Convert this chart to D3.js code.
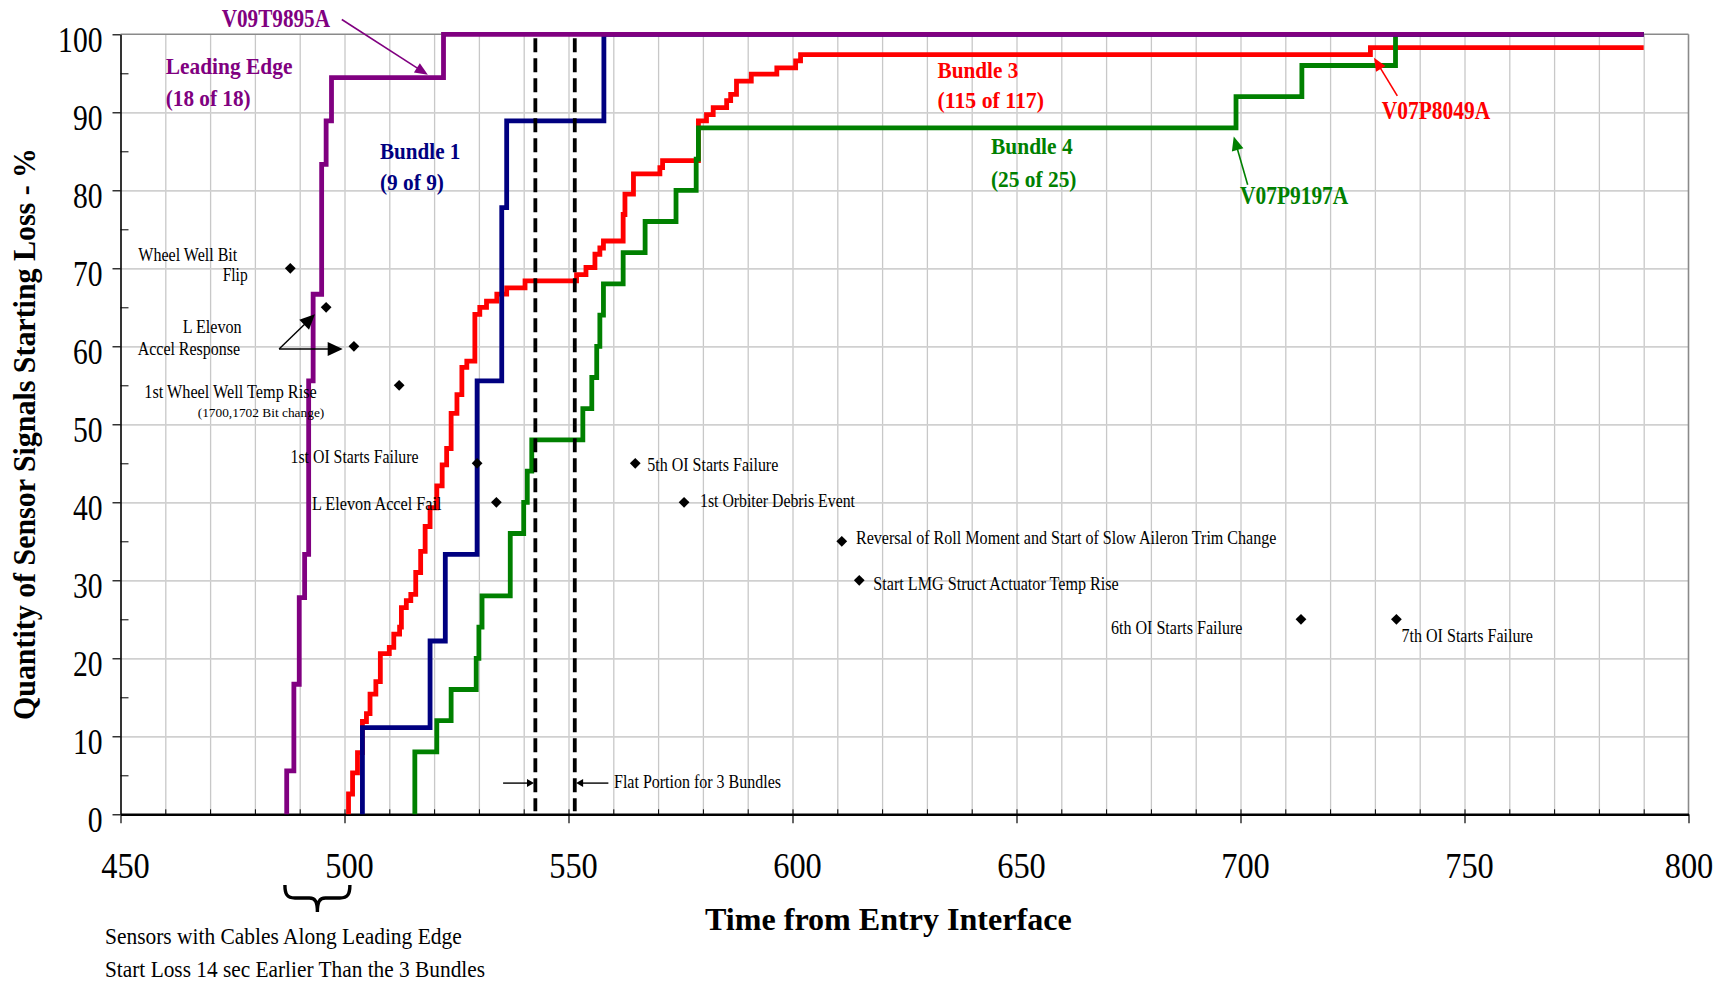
<!DOCTYPE html>
<html><head><meta charset="utf-8">
<script src="https://cdn.jsdelivr.net/npm/d3@7"></script>
<style>
html,body{margin:0;padding:0;background:#fff;}
svg{display:block;}
text{font-family:"Liberation Serif","Times New Roman",serif;}
</style></head><body>
<svg id="chart" width="1718" height="981"></svg>
<script>
// ---------------- DATA ----------------
const xTickValues = [450, 500, 550, 600, 650, 700, 750, 800];
const yTickValues = [0, 10, 20, 30, 40, 50, 60, 70, 80, 90, 100];

// step series: [time (s), % of sensor signals that have started loss]
const leadingEdge = [[487.1,0],[487.1,5.56],[488.7,16.67],[489.9,27.78],[491.1,33.33],[492.0,55.56],
  [493.0,66.67],[494.9,83.33],[495.9,88.89],[497.1,94.44],[522.1,100],[790,100]];
const bundle1 = [[504.0,0],[504.0,11.11],[519.1,22.22],[522.5,33.33],[529.6,55.56],[535.1,77.78],
  [536.2,88.89],[557.9,100],[790,100]];
const bundle3 = [[500.9,0],[500.9,2.6],[501.8,5.3],[502.9,7.9],[504.0,11.9],[504.9,12.9],[505.7,15.4],
  [507.0,17.0],[508.0,20.6],[510.0,21.4],[511.0,23.1],[512.3,24.0],[512.7,26.5],[513.8,27.4],[514.8,28.2],
  [515.9,31.0],[517.0,33.7],[518.0,36.9],[519.1,39.3],[520.6,42.1],[521.8,44.8],[522.8,46.9],[523.8,51.4],
  [525.1,53.8],[526.2,57.3],[527.3,58.1],[529.1,64.1],[530.2,65.0],[531.7,65.8],[534.0,66.7],[536.2,67.5],
  [540.3,68.4],[551.8,69.2],[553.9,70.1],[555.9,71.8],[557.0,72.6],[557.8,73.5],[562.2,76.9],[562.6,79.5],
  [564.5,82.1],[570.4,82.9],[571.0,83.8],[579.0,88.9],[580.8,89.7],[582.3,90.6],[585.3,91.5],[586.2,92.3],
  [587.5,94.0],[590.8,94.9],[596.5,95.7],[600.7,96.6],[601.8,97.4],[729.0,98.3],[790,98.3]];
const bundle4 = [[515.7,0],[515.7,8],[520.6,12],[523.8,16],[529.4,20],[530.0,24],[530.7,28],[537.0,36],
  [540.0,40],[540.8,44],[541.8,48],[553.2,52],[555.2,56],[556.3,60],[557.0,64],[557.8,68],[562.2,72],
  [567.1,76],[574.0,80],[578.5,84],[579.0,88],[699.0,92],[713.7,96],[734.6,100],[790,100]];

// events (time, %) marked by diamonds
const eventTimes  = [487.9, 495.9, 502.1, 512.2, 529.6, 533.9, 564.9, 575.8, 611.0, 614.9, 713.5, 734.8];
const eventLevels = [70, 65, 60, 55, 45, 40, 45, 40, 35, 30, 25, 25];

// flat portion boundaries (time)
const flatBounds = [542.6, 551.4];

// ---------------- LAYOUT ----------------
const svg = d3.select("#chart");
svg.append("rect").attr("width",1718).attr("height",981).attr("fill","#fff");
const x = d3.scaleLinear().domain([450, 800]).range([120.5, 1688.5]);
const y = d3.scaleLinear().domain([0, 100]).range([814.3, 34.3]);
const plotW = x(800) - x(450), plotH = y(0) - y(100);

// gridlines
const gV = svg.append("g").attr("transform", `translate(0,${y(0)})`)
  .call(d3.axisBottom(x).tickValues(d3.range(460, 800, 10)).tickSize(-plotH).tickFormat("").tickSizeOuter(0));
gV.select(".domain").remove();
gV.selectAll("line").attr("stroke", "#c8c8c8").attr("stroke-width", 1.3);
const gH = svg.append("g").attr("transform", `translate(${x(450)},0)`)
  .call(d3.axisLeft(y).tickValues(d3.range(10, 100, 10)).tickSize(-plotW).tickFormat("").tickSizeOuter(0));
gH.select(".domain").remove();
gH.selectAll("line").attr("stroke", "#d0d0d0").attr("stroke-width", 1.8);

// border top/right
svg.append("line").attr("x1", x(450)).attr("x2", x(800)).attr("y1", y(100)).attr("y2", y(100))
  .attr("stroke", "#8a8a8a").attr("stroke-width", 1.6);
svg.append("line").attr("x1", x(800)).attr("x2", x(800)).attr("y1", y(100)).attr("y2", y(0))
  .attr("stroke", "#8a8a8a").attr("stroke-width", 1.6);

// minor ticks (inward)
const mX = svg.append("g").attr("transform", `translate(0,${y(0)})`)
  .call(d3.axisBottom(x).tickValues(d3.range(460, 800, 10)).tickSize(-5).tickFormat("").tickSizeOuter(0));
mX.select(".domain").remove();
mX.selectAll("line").attr("stroke", "#000").attr("stroke-width", 1);
const mY = svg.append("g").attr("transform", `translate(${x(450)},0)`)
  .call(d3.axisLeft(y).tickValues(d3.range(5, 100, 10)).tickSize(-8).tickFormat("").tickSizeOuter(0));
mY.select(".domain").remove();
mY.selectAll("line").attr("stroke", "#000").attr("stroke-width", 1);

// major axes
const ax = svg.append("g").attr("transform", `translate(0,${y(0)})`)
  .call(d3.axisBottom(x).tickValues(xTickValues).tickSize(9).tickSizeOuter(0).tickFormat(d3.format("d")));
ax.select(".domain").attr("stroke", "#000").attr("stroke-width", 2.6);
ax.selectAll("line").attr("stroke", "#000").attr("stroke-width", 1.2);
ax.selectAll("text").attr("font-family", "Liberation Serif").attr("font-size", 35).attr("fill", "#000")
  .attr("y", 64).attr("dy", 0).attr("x", d => d === 800 ? 0 : 4.5).attr("text-anchor", "middle")
  .attr("textLength", d => String(d).length * 16.2).attr("lengthAdjust", "spacingAndGlyphs");

const ay = svg.append("g").attr("transform", `translate(${x(450)},0)`)
  .call(d3.axisLeft(y).tickValues(yTickValues).tickSize(8).tickSizeOuter(0).tickFormat(d3.format("d")));
ay.select(".domain").attr("stroke", "#000").attr("stroke-width", 1.6);
ay.selectAll("line").attr("stroke", "#000").attr("stroke-width", 1.2);
ay.selectAll("text").attr("font-family", "Liberation Serif").attr("font-size", 35).attr("fill", "#000")
  .attr("x", -18).attr("dy", 0).attr("y", 17.4).attr("text-anchor", "end")
  .attr("textLength", d => String(d).length * 14.8).attr("lengthAdjust", "spacingAndGlyphs");

// ---------------- SERIES ----------------
const line = d3.line().x(d => x(d[0])).y(d => y(d[1])).curve(d3.curveStepAfter);
const series = [
  {data: bundle3, color: "#ff0000"},
  {data: bundle4, color: "#008000"},
  {data: bundle1, color: "#000080"},
  {data: leadingEdge, color: "#800080"}
];
svg.append("g").selectAll("path").data(series).join("path")
  .attr("d", d => line(d.data)).attr("fill", "none").attr("stroke", d => d.color)
  .attr("stroke-width", 4.8).attr("stroke-linejoin", "miter").attr("stroke-linecap", "butt");

// flat-portion dashed lines
svg.append("g").selectAll("line").data(flatBounds).join("line")
  .attr("x1", d => x(d)).attr("x2", d => x(d)).attr("y1", y(99.5)).attr("y2", y(0.4))
  .attr("stroke", "#000").attr("stroke-width", 3.8).attr("stroke-dasharray", "14,6");

// event diamonds
svg.append("g").selectAll("path").data(eventTimes).join("path")
  .attr("d", d3.symbol().type(d3.symbolSquare).size(58))
  .attr("transform", (d, i) => `translate(${x(d)},${y(eventLevels[i])}) rotate(45)`)
  .attr("fill", "#000");

// ---------------- ANNOTATIONS ----------------
function txt(t, v, str, o) {
  const el = svg.append("text").attr("x", x(t)).attr("y", y(v)).text(str)
    .attr("font-size", o.size || 18).attr("font-weight", o.bold ? "bold" : "normal")
    .attr("fill", o.color || "#000");
  if (o.w) el.attr("textLength", o.w).attr("lengthAdjust", "spacingAndGlyphs");
  return el;
}
const PURPLE = "#800080", NAVY = "#000080", RED = "#ff0000", GREEN = "#008000";
txt(472.59, 100.97, "V09T9895A", {size: 25, bold: true, color: PURPLE, w: 108.3});
txt(460.09, 94.91, "Leading Edge", {size: 24, bold: true, color: PURPLE, w: 126.7});
txt(460.09, 90.81, "(18 of 18)", {size: 24, bold: true, color: PURPLE, w: 85});
txt(507.92, 84.01, "Bundle 1", {size: 24, bold: true, color: NAVY, w: 80.4});
txt(507.92, 80.04, "(9 of 9)", {size: 24, bold: true, color: NAVY, w: 64});
txt(632.37, 94.40, "Bundle 3", {size: 24, bold: true, color: RED, w: 80.8});
txt(632.37, 90.55, "(115 of 117)", {size: 24, bold: true, color: RED, w: 106.5});
txt(644.31, 84.71, "Bundle 4", {size: 24, bold: true, color: GREEN, w: 81.6});
txt(644.31, 80.42, "(25 of 25)", {size: 24, bold: true, color: GREEN, w: 85.5});
txt(731.54, 89.14, "V07P8049A", {size: 25, bold: true, color: RED, w: 108.4});
txt(699.89, 78.24, "V07P9197A", {size: 25, bold: true, color: GREEN, w: 108.3});

txt(453.97, 70.97, "Wheel Well Bit", {w: 99});
txt(472.81, 68.41, "Flip", {w: 25});
txt(463.88, 61.67, "L Elevon", {w: 59});
txt(453.84, 58.88, "Accel Response", {w: 102.3});
txt(455.31, 53.33, "1st Wheel Well Temp Rise", {w: 172.4});
txt(467.23, 50.97, "(1700,1702 Bit change)", {size: 13, w: 126.6});
txt(487.95, 45.04, "1st OI Starts Failure", {w: 128});
txt(492.75, 39.01, "L Elevon Accel Fail", {w: 129.5});
txt(567.59, 44.05, "5th OI Starts Failure", {w: 131});
txt(579.35, 39.36, "1st Orbiter Debris Event", {w: 155});
txt(614.17, 34.65, "Reversal of Roll Moment and Start of Slow Aileron Trim Change", {w: 420.5});
txt(618.04, 28.76, "Start LMG Struct Actuator Temp Rise", {w: 245.4});
txt(671.09, 23.12, "6th OI Starts Failure", {w: 131.5});
txt(735.94, 22.09, "7th OI Starts Failure", {w: 131.5});
txt(560.16, 3.33, "Flat Portion for 3 Bundles", {w: 167});

// arrows
function arrow(t1, v1, t2, v2, color, lw, hl, hw) {
  const x1 = x(t1), y1 = y(v1), x2 = x(t2), y2 = y(v2);
  const dx = x2 - x1, dy = y2 - y1, L = Math.hypot(dx, dy), ux = dx / L, uy = dy / L;
  const bx = x2 - ux * hl, by = y2 - uy * hl;
  svg.append("line").attr("x1", x1).attr("y1", y1).attr("x2", bx + ux).attr("y2", by + uy)
    .attr("stroke", color).attr("stroke-width", lw);
  svg.append("path").attr("d", `M${x2},${y2}L${bx - uy * hw},${by + ux * hw}L${bx + uy * hw},${by - ux * hw}Z`)
    .attr("fill", color);
}
arrow(499.4, 101.9, 518.6, 94.8, PURPLE, 1.6, 13, 5.5);
arrow(735.0, 92.1, 729.8, 97.0, RED, 1.6, 13, 5.5);
arrow(701.6, 80.7, 698.5, 86.9, GREEN, 1.6, 14, 6);
arrow(485.4, 59.65, 493.4, 64.1, "#000", 1.4, 15, 7);
arrow(485.4, 59.65, 499.6, 59.65, "#000", 1.4, 15, 7);
arrow(535.4, 4, 542.3, 4, "#000", 1.4, 7, 4);
arrow(558.9, 4, 551.7, 4, "#000", 1.4, 7, 4);

// brace under axis
const bx0 = x(486.7), bx1 = x(501.2), bm = (bx0 + bx1) / 2;
svg.append("path").attr("fill", "none").attr("stroke", "#000").attr("stroke-width", 3.4)
  .attr("d", `M${bx0},885 C${bx0},894 ${bx0 + 2},898 ${bx0 + 10},898 L${bm - 8},898 C${bm - 2},898 ${bm},902 ${bm},912 C${bm},902 ${bm + 2},898 ${bm + 8},898 L${bx1 - 10},898 C${bx1 - 2},898 ${bx1},894 ${bx1},885`);

// bottom texts
svg.append("text").attr("x", 105).attr("y", 944).attr("font-size", 23.7)
  .attr("textLength", 356.7).attr("lengthAdjust", "spacingAndGlyphs")
  .text("Sensors with Cables Along Leading Edge");
svg.append("text").attr("x", 105).attr("y", 976.7).attr("font-size", 23.7)
  .attr("textLength", 380).attr("lengthAdjust", "spacingAndGlyphs")
  .text("Start Loss 14 sec Earlier Than the 3 Bundles");

// axis titles
svg.append("text").attr("x", 705).attr("y", 930).attr("font-size", 32.5).attr("font-weight", "bold")
  .attr("textLength", 366.7).attr("lengthAdjust", "spacingAndGlyphs")
  .text("Time from Entry Interface");
svg.append("text").attr("transform", "translate(35,434) rotate(-90)").attr("text-anchor", "middle")
  .attr("font-size", 31).attr("font-weight", "bold")
  .attr("textLength", 572).attr("lengthAdjust", "spacingAndGlyphs")
  .text("Quantity of Sensor Signals Starting Loss - %");
</script>
</body></html>
